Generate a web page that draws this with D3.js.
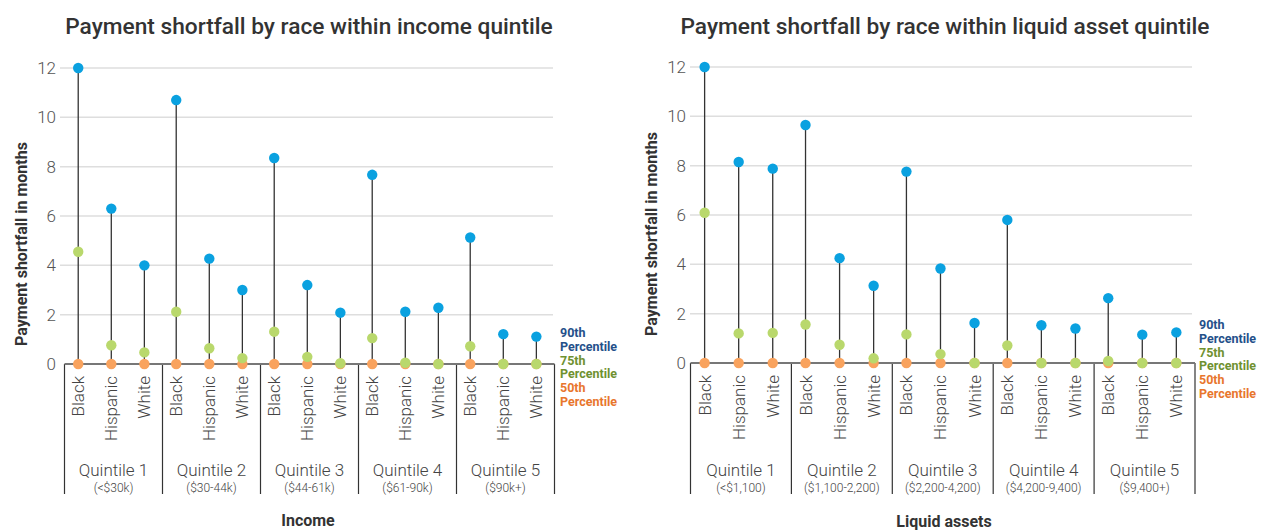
<!DOCTYPE html>
<html>
<head>
<meta charset="utf-8">
<script src="https://cdn.jsdelivr.net/npm/d3@7"></script>
<style>
  body { margin: 0; background: #fff; }
  svg { display: block; font-family: Roboto, "Noto Sans", sans-serif; }
</style>
</head>
<body>
<div id="chart"></div>
<script>
(function () {

  // data
  const races = ["Black", "Hispanic", "White"]
  const quintiles = ["Quintile 1", "Quintile 2", "Quintile 3", "Quintile 4", "Quintile 5"]
  const incomeRanges = ["(<$30k)", "($30-44k)", "($44-61k)", "($61-90k)", "($90k+)"]
  const assetRanges = ["(<$1,100)", "($1,100-2,200)", "($2,200-4,200)", "($4,200-9,400)", "($9,400+)"]
  const yTicks = [0, 2, 4, 6, 8, 10, 12]

  // one value per quintile x race, in order Q1 Black, Q1 Hispanic, Q1 White, Q2 Black ...
  const incomeP90 = [12.0, 6.3, 4.0, 10.7, 4.27, 3.0, 8.35, 3.2, 2.08, 7.67, 2.12, 2.28, 5.13, 1.21, 1.11]
  const incomeP75 = [4.55, 0.76, 0.47, 2.12, 0.64, 0.24, 1.31, 0.29, 0.03, 1.05, 0.05, 0, 0.72, 0, 0]
  const incomeP50 = [0, 0, 0, 0, 0, 0, 0, 0, 0, 0, 0, 0, 0, 0, 0]

  const assetP90 = [12.0, 8.15, 7.88, 9.65, 4.25, 3.13, 7.76, 3.83, 1.62, 5.8, 1.53, 1.4, 2.63, 1.15, 1.24]
  const assetP75 = [6.09, 1.2, 1.22, 1.56, 0.74, 0.19, 1.16, 0.36, 0, 0.71, 0, 0, 0.08, 0, 0]
  const assetP50 = [0, 0, 0, 0, 0, 0, 0, 0, 0, 0, 0, 0, 0, 0, 0]

  const legend = [
    { line1: "90th", line2: "Percentile", color: "#24508a" },
    { line1: "75th", line2: "Percentile", color: "#6f9130" },
    { line1: "50th", line2: "Percentile", color: "#e8762d" }
  ]

  const dotColor = { p90: "#0aa1e0", p75: "#b9d86c", p50: "#f9a35e" }

  const svg = d3.select("#chart").append("svg")
    .attr("width", 1265)
    .attr("height", 531)

  function rows (p90, p75, p50) {
    const out = []
    quintiles.forEach((q, i) => {
      races.forEach((r, j) => {
        const k = i * 3 + j
        out.push({ quintile: q, race: r, p90: p90[k], p75: p75[k], p50: p50[k] })
      })
    })
    return out
  }

  function panel (opts) {
    const g = svg.append("g")

    const x = d3.scaleBand()
      .domain(quintiles)
      .range([opts.left, opts.right])
      .padding(0)

    const bw = x.bandwidth()
    const xr = d3.scalePoint()
      .domain(races)
      .range([bw * 0.14, bw * 0.815])

    const y = d3.scaleLinear()
      .domain([0, 12])
      .range([opts.zero, opts.top])

    const px = d => x(d.quintile) + xr(d.race)

    // title
    g.append("text")
      .attr("x", opts.titleX)
      .attr("y", 34)
      .attr("text-anchor", "middle")
      .attr("font-size", 22.7)
      .attr("font-weight", 500)
      .attr("fill", "#333")
      .text(opts.title)

    // grid
    g.selectAll(".grid")
      .data(yTicks.filter(t => t > 0))
      .join("line")
      .attr("x1", opts.gridLeft)
      .attr("x2", opts.gridRight)
      .attr("y1", d => y(d))
      .attr("y2", d => y(d))
      .attr("stroke", "#dedede")
      .attr("stroke-width", 1.5)

    g.selectAll(".tick")
      .data(yTicks)
      .join("text")
      .attr("x", opts.gridLeft - 4)
      .attr("y", d => y(d))
      .attr("dy", "0.35em")
      .attr("text-anchor", "end")
      .attr("font-size", 17)
      .attr("font-weight", 300)
      .attr("fill", "#555")
      .text(d => d)

    // y axis title
    g.append("text")
      .attr("transform", "translate(" + opts.yLabelX + "," + opts.yLabelY + ") rotate(-90)")
      .attr("text-anchor", "middle")
      .attr("font-size", 16)
      .attr("font-weight", 700)
      .attr("fill", "#333")
      .text("Payment shortfall in months")

    // group dividers
    const edges = quintiles.map(q => x(q)).concat([opts.right])
    g.selectAll(".divider")
      .data(edges)
      .join("line")
      .attr("x1", d => d)
      .attr("x2", d => d)
      .attr("y1", y(0))
      .attr("y2", 494)
      .attr("stroke", "#333")
      .attr("stroke-width", 1.2)

    // zero axis
    g.append("line")
      .attr("x1", opts.left)
      .attr("x2", opts.right)
      .attr("y1", y(0))
      .attr("y2", y(0))
      .attr("stroke", "#777")
      .attr("stroke-width", 2)

    const data = rows(opts.p90, opts.p75, opts.p50)

    // stems
    g.selectAll(".stem")
      .data(data)
      .join("line")
      .attr("x1", px)
      .attr("x2", px)
      .attr("y1", y(0))
      .attr("y2", d => y(d.p90))
      .attr("stroke", "#333")
      .attr("stroke-width", 1.3)

    ;["p50", "p75", "p90"].forEach(key => {
      g.selectAll(".dot-" + key)
        .data(data)
        .join("circle")
        .attr("cx", px)
        .attr("cy", d => y(d[key]))
        .attr("r", 5.2)
        .attr("fill", dotColor[key])
    })

    // race labels, rotated
    g.selectAll(".race")
      .data(data)
      .join("text")
      .attr("transform", d => "translate(" + (px(d) + 6) + "," + (y(0) + 12) + ") rotate(-90)")
      .attr("text-anchor", "end")
      .attr("font-size", 17)
      .attr("font-weight", 300)
      .attr("fill", "#444")
      .text(d => d.race)

    // quintile labels
    g.selectAll(".quint")
      .data(quintiles)
      .join("text")
      .attr("x", d => x(d) + bw / 2)
      .attr("y", 476)
      .attr("text-anchor", "middle")
      .attr("font-size", 17)
      .attr("font-weight", 300)
      .attr("fill", "#444")
      .text(d => d)

    g.selectAll(".range")
      .data(opts.ranges)
      .join("text")
      .attr("x", (d, i) => x(quintiles[i]) + bw / 2)
      .attr("y", 492)
      .attr("text-anchor", "middle")
      .attr("font-size", 12)
      .attr("font-weight", 300)
      .attr("fill", "#444")
      .text(d => d)

    // x axis title
    g.append("text")
      .attr("x", opts.xTitleX)
      .attr("y", opts.xTitleY)
      .attr("text-anchor", "middle")
      .attr("font-size", 16)
      .attr("font-weight", 700)
      .attr("fill", "#333")
      .text(opts.xTitle)

    // legend
    legend.forEach((l, i) => {
      const ly = opts.legendY + i * 27.5
      g.append("text")
        .attr("x", opts.legendX)
        .attr("y", ly)
        .attr("font-size", 12.5)
        .attr("font-weight", 700)
        .attr("fill", l.color)
        .text(l.line1)
      g.append("text")
        .attr("x", opts.legendX)
        .attr("y", ly + 13.5)
        .attr("font-size", 12.5)
        .attr("font-weight", 700)
        .attr("fill", l.color)
        .text(l.line2)
    })
  }

  panel({
    title: "Payment shortfall by race within income quintile",
    titleX: 309,
    left: 64.5, right: 554.5,
    gridLeft: 60, gridRight: 553,
    zero: 364, top: 68,
    yLabelX: 27, yLabelY: 244,
    ranges: incomeRanges,
    xTitle: "Income", xTitleX: 308, xTitleY: 526,
    legendX: 560, legendY: 337,
    p90: incomeP90, p75: incomeP75, p50: incomeP50
  })

  panel({
    title: "Payment shortfall by race within liquid asset quintile",
    titleX: 945,
    left: 690.5, right: 1195,
    gridLeft: 690, gridRight: 1192,
    zero: 363, top: 67,
    yLabelX: 657, yLabelY: 234,
    ranges: assetRanges,
    xTitle: "Liquid assets", xTitleX: 944, xTitleY: 527,
    legendX: 1199, legendY: 329,
    p90: assetP90, p75: assetP75, p50: assetP50
  })

})();
</script>
</body>
</html>
